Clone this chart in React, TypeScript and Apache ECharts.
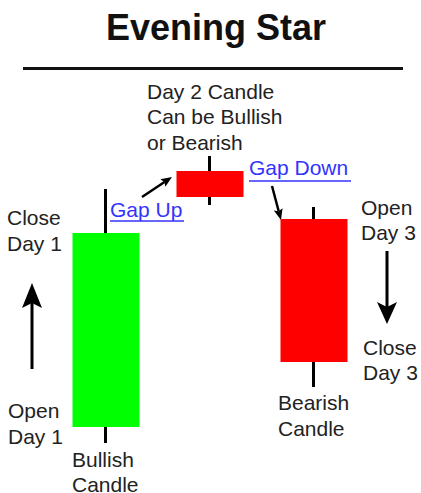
import React, { useEffect, useRef } from "react";
import * as echarts from "echarts";

const categories = ["Day 1", "Day 2", "Day 3"];
// [open, close, lowest, highest]
const candleValues: number[][] = [
  [23, 217, 7, 261],
  [279, 253, 245, 294],
  [231, 88, 63, 243],
];
const titleText = "Evening Star";
const FONT = "Liberation Sans";
const TEXT_COLOR = "#222";
const LINK_COLOR = "#3333ff";

function label(text: string, x: number, y: number, color = TEXT_COLOR, size = 21): any {
  return {
    type: "text",
    x,
    y,
    silent: true,
    style: {
      text,
      fill: color,
      fontFamily: FONT,
      fontSize: size,
      textAlign: "left",
      textVerticalAlign: "middle",
    },
  };
}

function arrow(x1: number, y1: number, x2: number, y2: number, headLen: number, headW: number, lw: number, notch = 0): any[] {
  const dx = x2 - x1;
  const dy = y2 - y1;
  const len = Math.sqrt(dx * dx + dy * dy);
  const ux = dx / len;
  const uy = dy / len;
  const px = -uy;
  const py = ux;
  const bx = x2 - ux * headLen;
  const by = y2 - uy * headLen;
  const nx = x2 - ux * (headLen - notch);
  const ny = y2 - uy * (headLen - notch);
  return [
    {
      type: "line",
      silent: true,
      shape: { x1, y1, x2: nx, y2: ny },
      style: { stroke: "#000", lineWidth: lw },
    },
    {
      type: "polygon",
      silent: true,
      shape: {
        points: [
          [x2, y2],
          [bx + px * headW / 2, by + py * headW / 2],
          [nx, ny],
          [bx - px * headW / 2, by - py * headW / 2],
        ],
      },
      style: { fill: "#000" },
    },
  ];
}

export default function App() {
  const ref = useRef<HTMLDivElement>(null);
  useEffect(() => {
    if (!ref.current) return;
    const chart = echarts.init(ref.current, undefined, { renderer: "svg" });
    chart.setOption({
      animation: false,
      backgroundColor: "#ffffff",
      grid: { left: 54, width: 312, top: 150, height: 300 },
      xAxis: { type: "category", data: categories, show: false },
      yAxis: { type: "value", min: 0, max: 300, show: false, splitLine: { show: false } },
      series: [
        {
          type: "candlestick",
          name: "wick",
          data: candleValues,
          barWidth: 1,
          z: 1,
          silent: true,
          itemStyle: {
            color: "#000",
            color0: "#000",
            borderColor: "#000",
            borderColor0: "#000",
            borderWidth: 3,
          },
        },
        {
          type: "candlestick",
          name: "body",
          data: candleValues,
          barWidth: 68,
          z: 2,
          silent: true,
          itemStyle: {
            color: "#00ff00",
            color0: "#ff0000",
            borderColor: "#00ff00",
            borderColor0: "#ff0000",
            borderWidth: 0,
          },
        },
      ],
      graphic: [
        {
          type: "text",
          x: 216,
          y: 27,
          silent: true,
          style: {
            text: titleText,
            fill: "#111",
            fontFamily: FONT,
            fontSize: 36,
            fontWeight: "bold",
            textAlign: "center",
            textVerticalAlign: "middle",
          },
        },
        {
          type: "line",
          silent: true,
          shape: { x1: 23, y1: 68.5, x2: 403, y2: 68.5 },
          style: { stroke: "#111", lineWidth: 3 },
        },
        label("Day 2 Candle", 147, 91),
        label("Can be Bullish", 147, 116.5),
        label("or Bearish", 147, 142),
        label("Close", 7, 217.5),
        label("Day 1", 7, 243.5),
        label("Open", 8, 410.5),
        label("Day 1", 8, 436),
        label("Bullish", 72, 459.5),
        label("Candle", 72, 484.5),
        label("Gap Up", 110, 209, LINK_COLOR),
        {
          type: "line",
          silent: true,
          shape: { x1: 110, y1: 221, x2: 184, y2: 221 },
          style: { stroke: LINK_COLOR, lineWidth: 1.5 },
        },
        label("Gap Down", 249, 167.5, LINK_COLOR),
        {
          type: "line",
          silent: true,
          shape: { x1: 249, y1: 181, x2: 351, y2: 181 },
          style: { stroke: LINK_COLOR, lineWidth: 1.5 },
        },
        label("Open", 361, 207),
        label("Day 3", 361, 232.5),
        label("Close", 363, 347.5),
        label("Day 3", 363, 372.5),
        label("Bearish", 278, 402.5),
        label("Candle", 278, 428),
        ...arrow(32, 369, 32, 283, 25, 20, 3, 5),
        ...arrow(387, 251, 387, 324, 22, 20, 3, 5),
        ...arrow(142, 197, 172, 177, 11, 9, 2.5, 2),
        ...arrow(272, 186, 281, 220, 11, 9, 2.5, 2),
      ],
    });
    return () => chart.dispose();
  }, []);
  return (
    <div
      ref={ref}
      style={{ position: "fixed", left: 0, top: 0, width: 421, height: 493, background: "#fff" }}
    />
  );
}
